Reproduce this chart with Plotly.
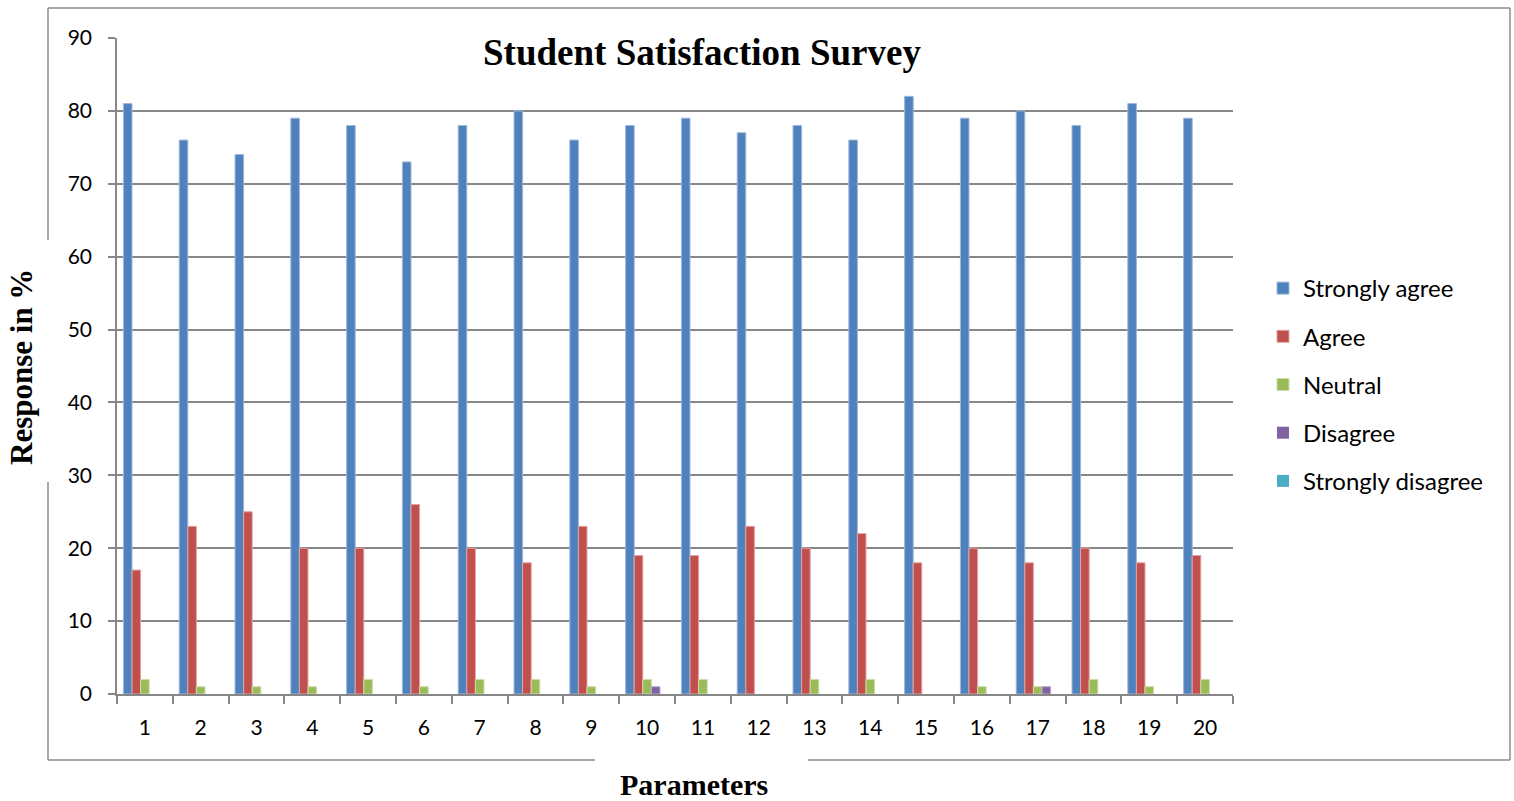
import plotly.graph_objects as go

categories = [str(i) for i in range(1, 21)]
strongly_agree = [81, 76, 74, 79, 78, 73, 78, 80, 76, 78, 79, 77, 78, 76, 82, 79, 80, 78, 81, 79]
agree = [17, 23, 25, 20, 20, 26, 20, 18, 23, 19, 19, 23, 20, 22, 18, 20, 18, 20, 18, 19]
neutral = [2, 1, 1, 1, 2, 1, 2, 2, 1, 2, 2, 0, 2, 2, 0, 1, 1, 2, 1, 2]
disagree = [0, 0, 0, 0, 0, 0, 0, 0, 0, 1, 0, 0, 0, 0, 0, 0, 1, 0, 0, 0]
strongly_disagree = [0] * 20

series = [
    ("Strongly agree", strongly_agree, "#4F81BD", "#9DB8DC"),
    ("Agree", agree, "#C0504D", "#E3A3A1"),
    ("Neutral", neutral, "#9BBB59", "#CCDDAA"),
    ("Disagree", disagree, "#8064A2", "#B9A8CF"),
    ("Strongly disagree", strongly_disagree, "#4BACC6", "#A3D4E2"),
]

W, H = 1514, 801
L, R, T, B = 117, 1233, 38, 694
pw, ph = R - L, B - T


def px(x):
    return (x - L) / pw


def py(y):
    return (B - y) / ph


fig = go.Figure()
for i, (name, vals, col, edge) in enumerate(series):
    fig.add_trace(go.Bar(
        x=categories, y=vals, name=name,
        marker=dict(color=col, line=dict(color=edge, width=[1 if v else 0 for v in vals])),
        legendgroup=f"g{i}",
    ))

grid = "#878787"
shapes = []
border = [
    (48, 8, 1510, 8),
    (1510, 8, 1510, 760),
    (48, 760, 595, 760),
    (808, 760, 1510, 760),
    (48, 8, 48, 240),
    (48, 482, 48, 760),
]
for x0, y0, x1, y1 in border:
    shapes.append(dict(type="line", xref="paper", yref="paper",
                       x0=px(x0), y0=py(y0), x1=px(x1), y1=py(y1),
                       line=dict(color="#8C8C8C", width=1.5), layer="above"))
shapes.append(dict(type="rect", xref="paper", yref="paper",
                   x0=px(462), x1=px(990), y0=py(44), y1=py(30),
                   fillcolor="white", line=dict(width=0), layer="above"))

annotations = [
    dict(text="<b>Student Satisfaction Survey</b>", xref="paper", yref="paper",
         x=px(702), y=py(52), xanchor="center", yanchor="middle", showarrow=False,
         font=dict(family="Liberation Serif", size=37, color="black")),
    dict(text="<b>Response in %</b>", xref="paper", yref="paper",
         x=px(22), y=py(367), xanchor="center", yanchor="middle", showarrow=False,
         textangle=-90,
         font=dict(family="Liberation Serif", size=31, color="black")),
    dict(text="<b>Parameters</b>", xref="paper", yref="paper",
         x=px(694), y=py(784), xanchor="center", yanchor="middle", showarrow=False,
         font=dict(family="Liberation Serif", size=30, color="black")),
]

fig.update_layout(
    width=W, height=H,
    margin=dict(l=L, r=W - R, t=T, b=H - B, pad=0),
    paper_bgcolor="white", plot_bgcolor="white",
    barmode="group", bargap=0.23, bargroupgap=0,
    font=dict(family="Lato", size=21, color="black"),
    shapes=shapes, annotations=annotations,
    legend=dict(x=px(1263), y=py(266), xanchor="left", yanchor="top",
                font=dict(family="Lato", size=24, color="black"),
                tracegroupgap=14, bgcolor="rgba(0,0,0,0)"),
    xaxis=dict(type="category", showgrid=False, showline=True, linecolor=grid, linewidth=1.5,
               ticks="outside", tickson="boundaries", ticklen=8, tickcolor=grid, tickwidth=1.5,
               ticklabelstandoff=14,
               tickfont=dict(family="Lato", size=21, color="black")),
    yaxis=dict(range=[0, 90], dtick=10, showgrid=True, gridcolor=grid, gridwidth=1.5,
               showline=True, linecolor=grid, linewidth=1.5, ticks="outside", ticklen=7,
               tickcolor=grid, tickwidth=1.5, zeroline=False, ticklabelstandoff=12,
               tickfont=dict(family="Lato", size=21, color="black")),
)

fig.write_html("out.html", config={"displayModeBar": False},
               post_script="document.body.style.margin='0';")
